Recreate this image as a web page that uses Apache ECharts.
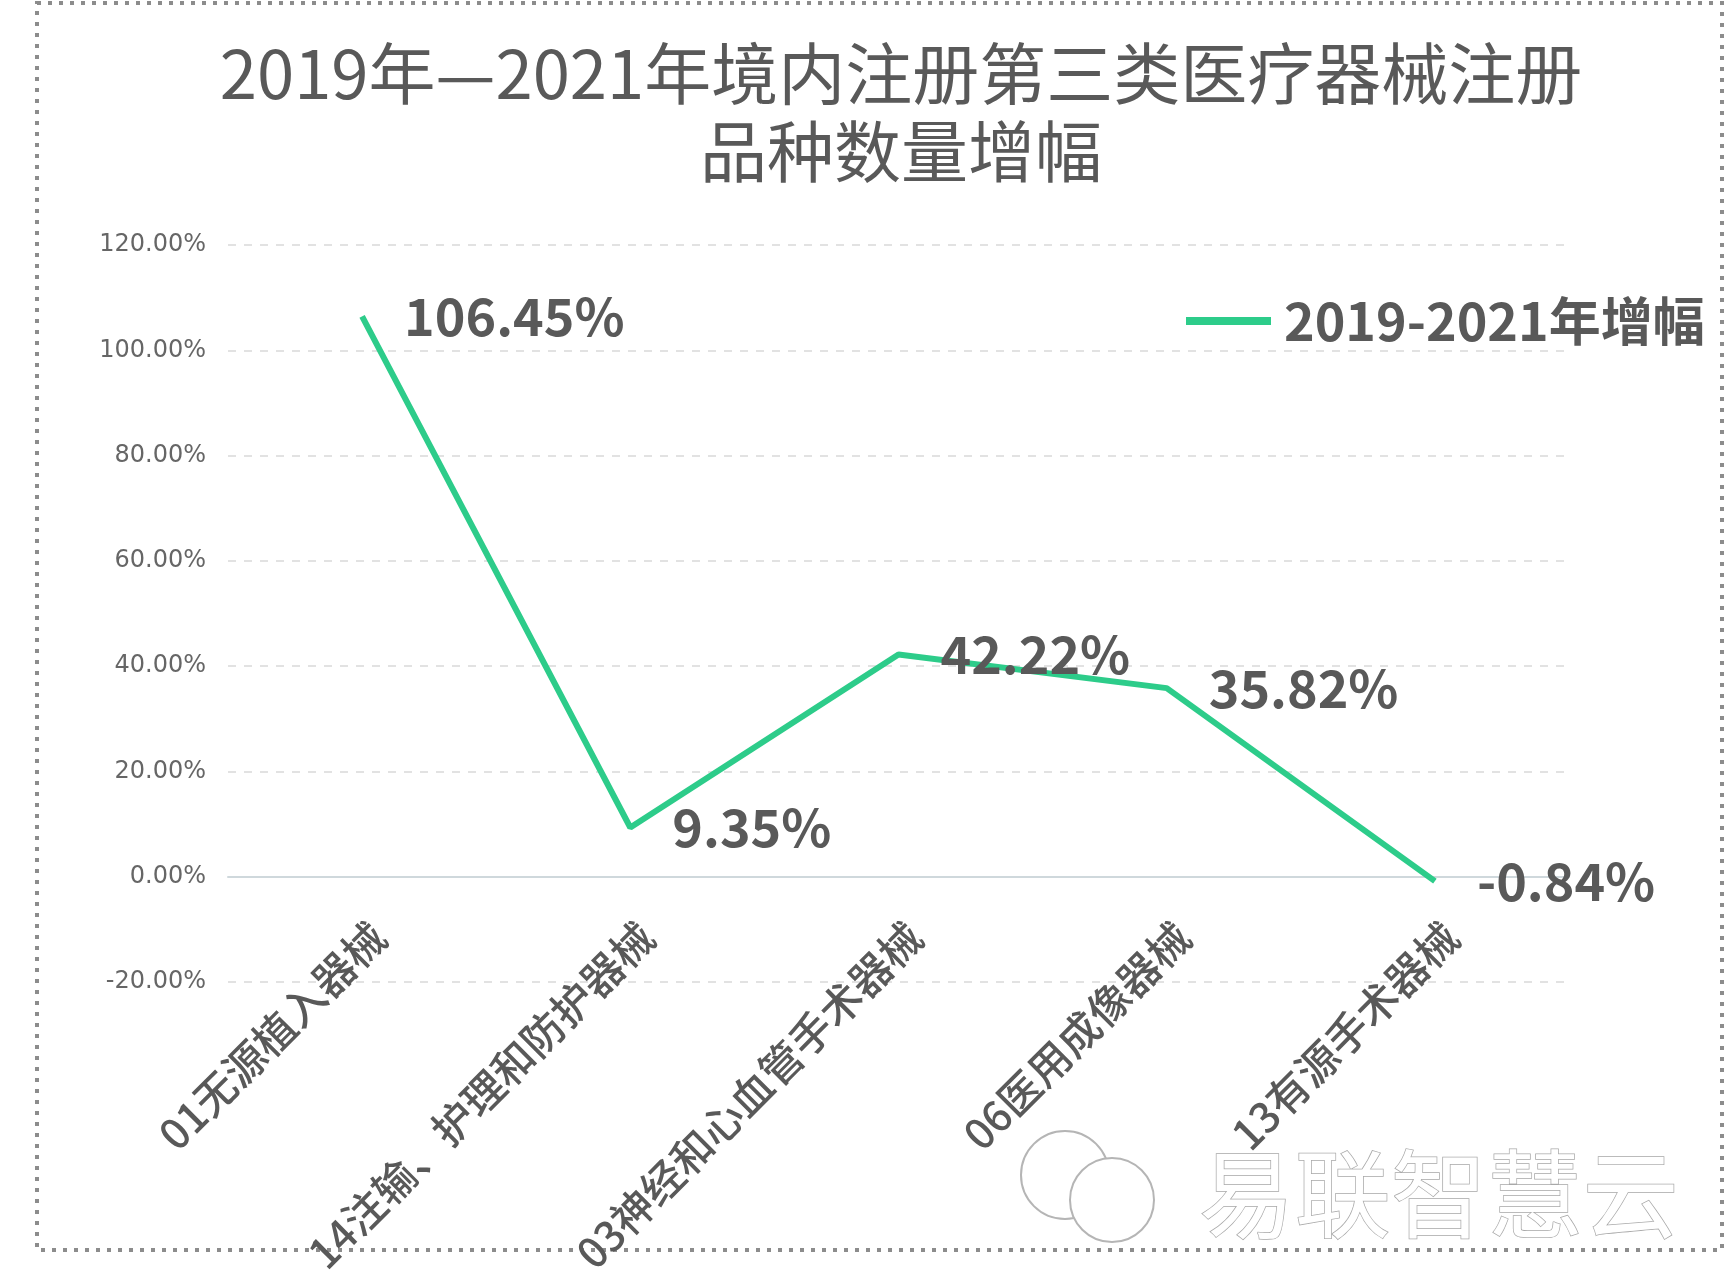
<!DOCTYPE html>
<html>
<head>
<meta charset="utf-8">
<title>2019年—2021年境内注册第三类医疗器械注册品种数量增幅</title>
<script src="https://cdn.jsdelivr.net/npm/echarts@6/dist/echarts.min.js"></script>
<style>
  html, body { margin: 0; padding: 0; background: #fff; }
  #main { width: 1734px; height: 1272px; }
</style>
</head>
<body>
<div id="main"></div>
<script>
// categories and values
var categories = ['01无源植入器械', '14注输、护理和防护器械', '03神经和心血管手术器械', '06医用成像器械', '13有源手术器械'];
var growth = [106.45, 9.35, 42.22, 35.82, -0.84];
var seriesName = '2019-2021年增幅';
var yTicks = { min: -20, max: 120, step: 20 };

var myChart = echarts.init(document.getElementById('main'));

var option = {
	backgroundColor: '#fff',
	title: {
		text: '2019年—2021年境内注册第三类医疗器械注册\n品种数量增幅',
		left: 896,
		top: 30,
		textAlign: 'center',
		textStyle: {
			fontFamily: 'Noto Sans CJK SC',
			fontSize: 67,
			fontWeight: 'normal',
			color: '#595959',
			lineHeight: 78
		}
	},
	legend: {
		data: [seriesName],
		left: 1181,
		top: 290,
		icon: 'rect',
		itemWidth: 85,
		itemHeight: 8,
		textStyle: {
			fontFamily: 'Noto Sans CJK SC',
			fontSize: 52,
			fontWeight: 'bold',
			color: '#595959',
			padding: [0, 0, 0, 8]
		}
	},
	grid: {
		left: 228,
		right: 165,
		top: 245,
		bottom: 290,
		outerBoundsMode: 'none',
		containLabel: false
	},
	xAxis: {
		type: 'category',
		data: categories,
		boundaryGap: true,
		axisLine: {
			show: true,
			lineStyle: { color: '#cfd8dc', width: 2 }
		},
		axisTick: { show: false },
		axisLabel: {
			rotate: 45,
			margin: -36,
			padding: [0, -23, 0, 0],
			interval: 0,
			fontFamily: 'Noto Sans CJK SC',
			fontSize: 42,
			fontWeight: 500,
			color: '#595959'
		}
	},
	yAxis: {
		type: 'value',
		min: yTicks.min,
		max: yTicks.max,
		interval: yTicks.step,
		axisLine: { show: false },
		axisTick: { show: false },
		axisLabel: {
			margin: 22,
			fontFamily: 'DejaVu Sans',
			fontSize: 24,
			color: '#666',
			formatter: function (v) {
				return v.toFixed(2) + '%';
			}
		},
		splitLine: {
			lineStyle: { color: '#d9d9d9', type: [8, 8], width: 1.5 }
		}
	},
	series: [
		{
			name: seriesName,
			type: 'line',
			data: growth,
			symbol: 'circle',
			symbolSize: 0,
			showSymbol: true,
			lineStyle: { color: '#2dcc8a', width: 6 },
			itemStyle: { color: '#2dcc8a' },
			label: {
				show: true,
				position: 'right',
				distance: 42,
				fontFamily: 'Noto Sans CJK SC',
				fontSize: 52,
				fontWeight: 'bold',
				color: '#595959',
				formatter: function (p) {
					return p.value.toFixed(2) + '%';
				}
			},
			z: 3
		}
	],
	graphic: [
		{
			type: 'rect',
			shape: { x: 37, y: 3, width: 1685, height: 1247 },
			style: {
				fill: 'none',
				stroke: '#8c8c8c',
				lineWidth: 4,
				lineDash: [4, 7]
			},
			silent: true
		},
		{
			type: 'circle',
			shape: { cx: 1065, cy: 1175, r: 44 },
			style: { fill: 'none', stroke: '#b5b5b5', lineWidth: 2 },
			silent: true
		},
		{
			type: 'circle',
			shape: { cx: 1112, cy: 1200, r: 42 },
			style: { fill: '#fff', stroke: '#b5b5b5', lineWidth: 2 },
			silent: true
		},
		{
			type: 'text',
			left: 1198,
			top: 1145,
			style: {
				text: '易联智慧云',
				fontFamily: 'Noto Sans CJK SC',
				fontSize: 96,
				fontWeight: 'normal',
				fill: '#fff',
				stroke: '#a8a8a8',
				lineWidth: 1.5
			},
			silent: true
		}
	]
};

myChart.setOption(option);
</script>
</body>
</html>
